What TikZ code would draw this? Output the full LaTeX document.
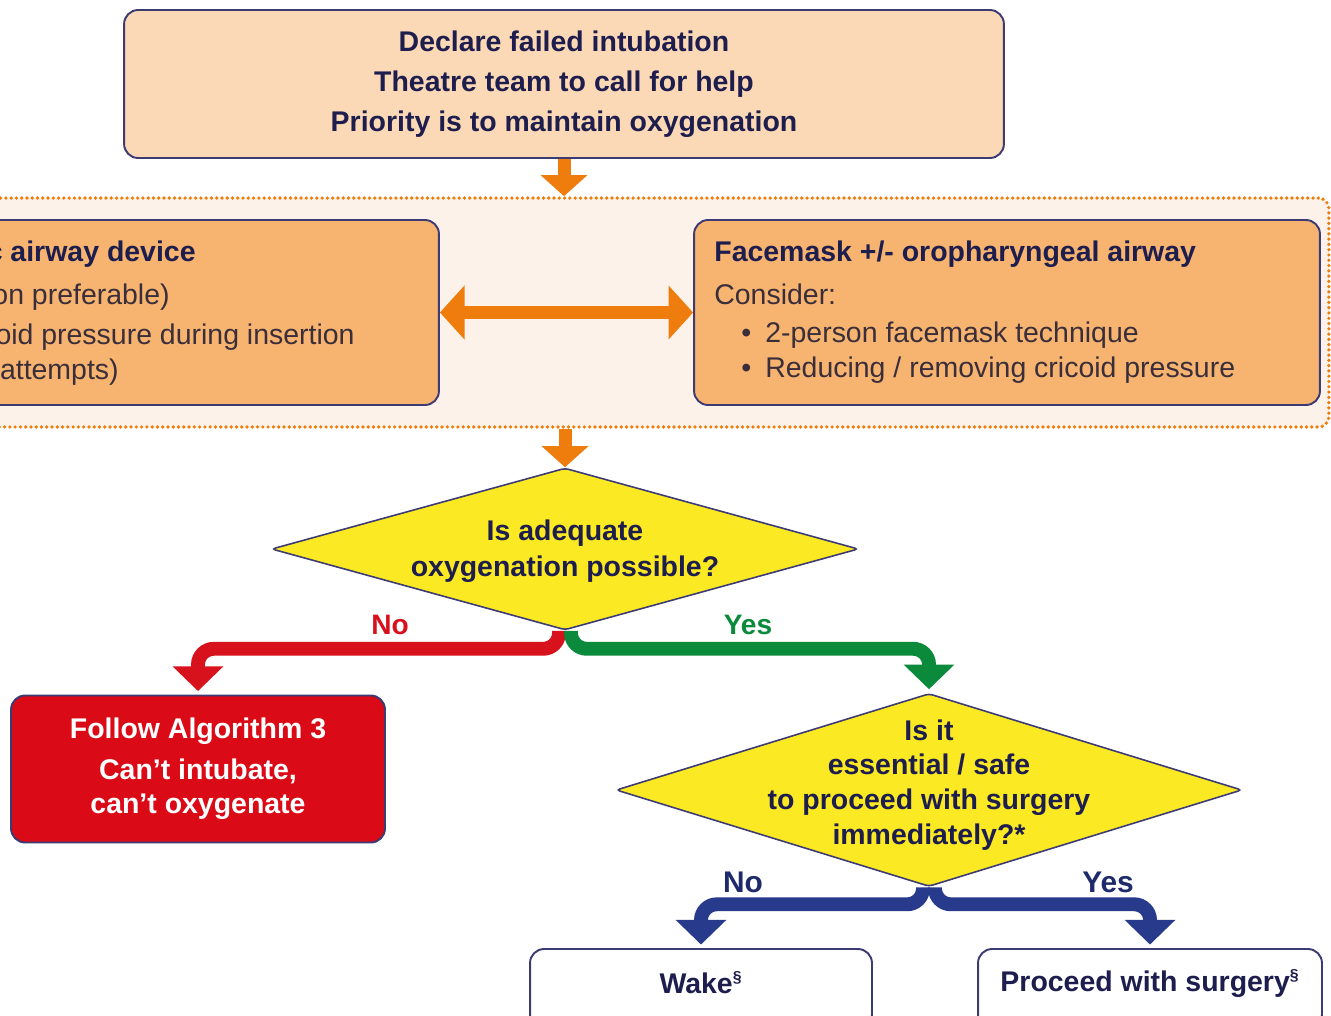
\documentclass[tikz,border=0pt]{standalone}
\usepackage{fontspec}
\setmainfont{Liberation Sans}
\usetikzlibrary{arrows.meta,shapes.geometric}
\definecolor{peach}{HTML}{FCD9B6}
\definecolor{orbox}{HTML}{F7B470}
\definecolor{bandfill}{HTML}{FDF2EA}
\definecolor{orangec}{HTML}{EE7D0E}
\definecolor{navyb}{HTML}{3D3B73}
\definecolor{navyt}{HTML}{1E1E4E}
\definecolor{bodyt}{HTML}{3A2E3A}
\definecolor{yel}{HTML}{FBE923}
\definecolor{redbox}{HTML}{DA0A16}
\definecolor{redarr}{HTML}{D8121D}
\definecolor{greenarr}{HTML}{0B8A3C}
\definecolor{navyarr}{HTML}{283A8C}
\definecolor{navylab}{HTML}{1F2A6B}
\begin{document}
\begin{tikzpicture}[x=0.02cm,y=-0.02cm,
  box/.style={rectangle, rounded corners=8pt, draw=navyb, line width=1.1pt, inner sep=0pt},
  dia/.style={diamond, draw=navyb, line width=0.9pt, fill=yel, inner sep=0pt, rounded corners=2pt},
  bfont/.style={font=\bfseries\fontsize{16.2}{22.7}\selectfont},
  txtb/.style={inner sep=0pt, text=navyt, bfont},
  txtr/.style={inner sep=0pt, text=bodyt, font=\fontsize{16.2}{20}\selectfont},
  orarrow/.style={draw=orangec, line width=7.4pt, -{Triangle[width=26pt,length=12pt]}},
  decarrow/.style={line width=7.9pt, rounded corners=9pt, -{Triangle[width=28pt,length=14pt]}, shorten >=2pt},
  lab/.style={inner sep=0pt, font=\bfseries\fontsize{16}{18}\selectfont},
  sect/.style={}]
\useasboundingbox (0,0) rectangle (1331,1015);
\clip (0,0) rectangle (1331,1015);
\fill[white] (0,0) rectangle (1331,1015);

% dotted band
\node[rectangle, rounded corners=6pt, fill=bandfill, draw=orangec, line width=2.1pt,
      dash pattern=on 0pt off 3pt, line cap=round,
      minimum width=27.18cm, minimum height=4.58cm] (band) at (649.5,312.5) {};

% top box
\node[box, fill=peach, minimum width=17.6cm, minimum height=2.96cm, align=center,
      text=navyt, bfont] (top) at (564,84)
  {Declare failed intubation\\Theatre team to call for help\\Priority is to maintain oxygenation};

% left and right boxes
\node[box, fill=orbox, minimum width=10.78cm, minimum height=3.7cm] (lbox) at (169.5,312.5) {};
\node[box, fill=orbox, minimum width=12.52cm, minimum height=3.7cm] (rbox) at (1007,312.5) {};

\node[txtb, anchor=base east] (l1) at (196,261) {c airway device};
\node[txtr, anchor=base east] (l2) at (170,304) {on preferable)};
\node[txtr, anchor=base east] (l3) at (355,344) {oid pressure during insertion};
\node[txtr, anchor=base east] (l4) at (119,379) {attempts)};

\node[txtb, anchor=base west] (r1) at (714,261) {Facemask +/- oropharyngeal airway};
\node[txtr, anchor=base west] (r2) at (714,304) {Consider:};
\node[txtr, anchor=base west] (r3) at (741,342) {\makebox[0.48cm][l]{•}2-person facemask technique};
\node[txtr, anchor=base west] (r4) at (741,377) {\makebox[0.48cm][l]{•}Reducing / removing cricoid pressure};

% diamonds
\node[dia, minimum width=11.74cm, minimum height=3.24cm] (d1) at (565,549) {};
\node[txtb, align=center, font=\bfseries\fontsize{16.2}{20.4}\selectfont] (d1t) at (565,551)
  {Is adequate\\oxygenation possible?};
\node[dia, minimum width=12.52cm, minimum height=3.86cm] (d2) at (929,790) {};
\node[txtb, align=center, font=\bfseries\fontsize{16.2}{19.8}\selectfont] (d2t) at (929,785)
  {Is it\\essential / safe\\to proceed with surgery\\immediately?*};

% red box
\node[box, fill=redbox, minimum width=7.48cm, minimum height=2.94cm, align=center,
      text=white, font=\bfseries\fontsize{16.2}{19.3}\selectfont] (alg) at (198,769)
  {Follow Algorithm 3\\[4pt]Can’t intubate,\\can’t oxygenate};

% outcome boxes
\node[box, fill=white, minimum width=6.84cm, minimum height=1.6cm] (wake) at (701,989) {};
\node[txtb] (wakel) at (701,983) {Wake\textsuperscript{\fontsize{9}{9}\selectfont §}};
\node[box, fill=white, minimum width=6.88cm, minimum height=1.6cm] (proc) at (1150,989) {};
\node[txtb] (procl) at (1150,983) {Proceed with surgery\textsuperscript{\fontsize{9}{9}\selectfont §}};

% orange arrows
\draw[orarrow] (top.south) -- (top.south |- band.north);
\draw[orarrow] (d1.north |- band.south) -- (d1.north);
\draw[draw=orangec, line width=7.9pt, {Triangle[width=30pt,length=14pt]}-{Triangle[width=30pt,length=14pt]}]
  (lbox.east) -- (rbox.west);

% decision arrows
\draw[decarrow, draw=redarr] ([xshift=-0.12cm]d1.south) -- ++(0,18) -| (alg.north);
\draw[decarrow, draw=greenarr] ([xshift=0.12cm]d1.south) -- ++(0,18) -| (d2.north);
\draw[decarrow, draw=navyarr] ([xshift=-0.12cm]d2.south) -- ++(0,17) -| (wake.north);
\draw[decarrow, draw=navyarr] ([xshift=0.12cm]d2.south) -- ++(0,17) -| (proc.north);

% labels
\node[lab, text=redarr] (no1) at (390,625) {No};
\node[lab, text=greenarr] (yes1) at (748,625) {Yes};
\node[lab, text=navylab, font=\bfseries\fontsize{17}{19}\selectfont] (no2) at (743,882) {No};
\node[lab, text=navylab, font=\bfseries\fontsize{17}{19}\selectfont] (yes2) at (1108,882) {Yes};
\end{tikzpicture}
\end{document}
